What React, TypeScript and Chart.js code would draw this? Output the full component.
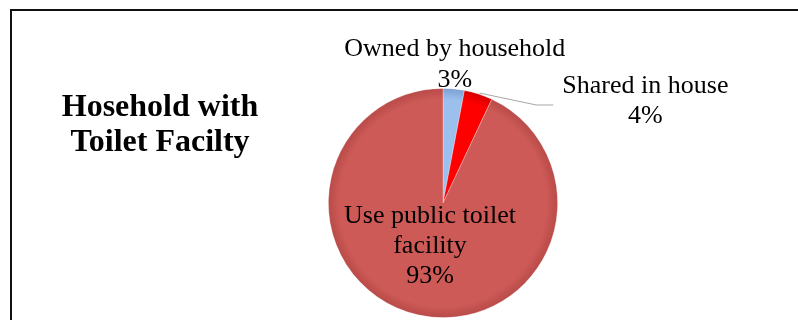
import React, { useEffect, useRef } from "react";
import { Chart, registerables } from "chart.js";

Chart.register(...registerables);

const titleLines = ["Hosehold with", "Toilet Facilty"];
const categories = ["Owned by household", "Shared in house", "Use public toilet facility"];
const labelLines = [["Owned by household"], ["Shared in house"], ["Use public toilet", "facility"]];
const values = [3, 4, 93];
const percentLabels = ["3%", "4%", "93%"];
const baseColors = ["#9cc0ee", "#ff0000", "#cd5a57"];
const rimColors = ["#7a9fd0", "#d40000", "#b84a47"];

const FONT = '26px "Liberation Serif", "Times New Roman", serif';

const labelPlugin = {
  id: "sliceLabels",
  afterDatasetsDraw(chart: any) {
    const ctx = chart.ctx;
    const meta = chart.getDatasetMeta(0);
    ctx.save();
    ctx.font = FONT;
    ctx.fillStyle = "#000";
    ctx.textAlign = "center";
    ctx.textBaseline = "alphabetic";
    meta.data.forEach((arc: any, i: number) => {
      const { x, y, startAngle, endAngle, outerRadius } = arc.getProps(
        ["x", "y", "startAngle", "endAngle", "outerRadius"],
        true
      );
      const mid = (startAngle + endAngle) / 2;
      const ox = x + Math.cos(mid) * outerRadius;
      const oy = y + Math.sin(mid) * outerRadius;
      const lines = [...labelLines[i], percentLabels[i]];
      if (i === 0) {
        const bx = ox + 1;
        const by = oy - 2;
        lines.forEach((t, k) => ctx.fillText(t, bx, by - (lines.length - 1 - k) * 31));
      } else if (i === 1) {
        ctx.strokeStyle = "#a6a6a6";
        ctx.lineWidth = 1;
        ctx.beginPath();
        ctx.moveTo(ox + 1, oy - 1);
        ctx.lineTo(ox + 58, oy + 11);
        ctx.lineTo(ox + 75, oy + 11);
        ctx.stroke();
        const bx = ox + 167;
        const by = oy - 1;
        lines.forEach((t, k) => ctx.fillText(t, bx, by + k * 30));
      } else {
        const bx = x - 13;
        const by = y + 20;
        lines.forEach((t, k) => ctx.fillText(t, bx, by + k * 30));
      }
    });
    ctx.restore();
  },
};

function sliceFill(c: any) {
  const i = c.dataIndex ?? 0;
  const chart = c.chart;
  const area = chart.chartArea;
  if (!area) return baseColors[i];
  const cx = (area.left + area.right) / 2;
  const cy = (area.top + area.bottom) / 2;
  const r = Math.min(area.right - area.left, area.bottom - area.top) / 2;
  const g = chart.ctx.createRadialGradient(cx, cy, 0, cx, cy, r);
  g.addColorStop(0, baseColors[i]);
  g.addColorStop(0.9, baseColors[i]);
  g.addColorStop(1, rimColors[i]);
  return g;
}

export default function App() {
  const ref = useRef<HTMLCanvasElement | null>(null);
  useEffect(() => {
    document.body.style.margin = "0";
    if (!ref.current) return;
    const chart = new Chart(ref.current, {
      type: "pie",
      data: {
        labels: categories,
        datasets: [
          {
            data: values,
            backgroundColor: sliceFill as any,
            borderColor: "rgba(255,255,255,0.35)",
            borderWidth: 0.8,
          },
        ],
      },
      options: {
        animation: false,
        responsive: false,
        maintainAspectRatio: false,
        layout: { padding: { left: 328, right: 240, top: 88, bottom: 2 } },
        plugins: {
          legend: { display: false },
          tooltip: { enabled: false },
          title: { display: false },
        },
      },
      plugins: [labelPlugin],
    });
    return () => chart.destroy();
  }, []);

  return (
    <div style={{ position: "relative", width: 798, height: 320, background: "#fff", overflow: "hidden" }}>
      <div
        style={{
          position: "absolute",
          left: 10,
          top: 9,
          width: 800,
          height: 320,
          borderTop: "2px solid #111",
          borderLeft: "2px solid #111",
        }}
      />
      <canvas ref={ref} width={798} height={320} style={{ position: "absolute", left: 0, top: 0 }} />
      <div
        style={{
          position: "absolute",
          left: 0,
          top: 88,
          width: 320,
          textAlign: "center",
          fontFamily: '"Liberation Serif", "Times New Roman", serif',
          fontWeight: "bold",
          fontSize: 32,
          lineHeight: "35px",
          color: "#000",
        }}
      >
        {titleLines.map((t) => (
          <div key={t}>{t}</div>
        ))}
      </div>
    </div>
  );
}
